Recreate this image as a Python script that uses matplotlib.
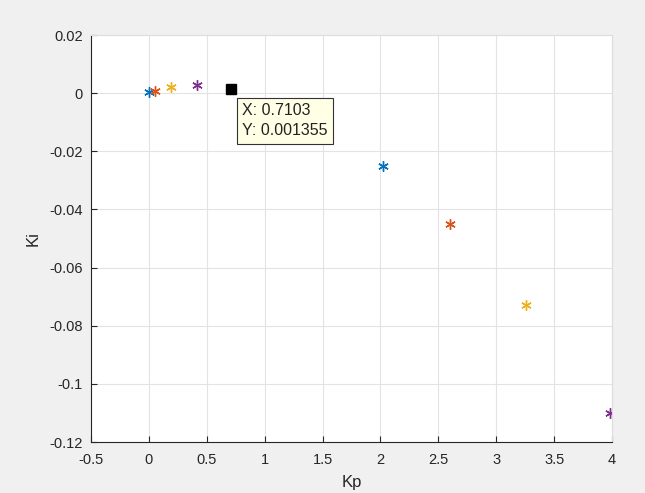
import numpy as np
import matplotlib.pyplot as plt

plt.rcParams['font.family'] = ['Liberation Sans', 'DejaVu Sans']

# Kp / Ki pairs, one colour per run (MATLAB default order)
kp = [0.0, 0.05, 0.19, 0.415, 2.02, 2.60, 3.255, 3.98]
ki = [0.0003, 0.0009, 0.0021, 0.0028, -0.025, -0.045, -0.073, -0.110]
colors = ['#0072BD', '#D95319', '#EDB120', '#7E2F8E',
          '#0072BD', '#D95319', '#EDB120', '#7E2F8E']

tipX = 0.7103
tipY = 0.001355

fig = plt.figure(figsize=(6.45, 4.93), dpi=100, facecolor='#F0F0F0')
ax = fig.add_axes([0.141, 0.1034, 0.808, 0.8256])
ax.set_facecolor('white')

for x, y, c in zip(kp, ki, colors):
    ax.plot(x, y, linestyle='none', marker=(6, 2, 0), markersize=7.5,
            markeredgewidth=1.0, color=c)

# data tip
ax.plot(tipX, tipY, 's', color='black', markersize=7)
ax.annotate('X: %.4f\nY: %g' % (tipX, tipY), xy=(tipX, tipY),
            xytext=(8, -10), textcoords='offset points', ha='left', va='top',
            fontsize=11.5, linespacing=1.45, color='#222222',
            bbox=dict(boxstyle='square,pad=0.32', fc='#FFFFE6', ec='#333333', lw=0.8))

ax.set_xlim(-0.5, 4)
ax.set_ylim(-0.12, 0.02)
ax.set_xticks(np.arange(-0.5, 4.01, 0.5))
ax.set_xticklabels(['-0.5', '0', '0.5', '1', '1.5', '2', '2.5', '3', '3.5', '4'])
ax.set_yticks(np.arange(-0.12, 0.021, 0.02))
ax.set_yticklabels(['-0.12', '-0.1', '-0.08', '-0.06', '-0.04', '-0.02', '0', '0.02'])
ax.grid(True, color='#E3E3E3', linewidth=0.8)
ax.set_axisbelow(True)
ax.tick_params(direction='in', length=4, labelsize=10.5, colors='#262626',
               top=False, right=False)
ax.tick_params(axis='x', pad=8)
ax.tick_params(axis='y', pad=6)
for side in ['left', 'bottom']:
    ax.spines[side].set_color('#262626')
    ax.spines[side].set_linewidth(0.8)
for side in ['top', 'right']:
    ax.spines[side].set_color('#DDDDDD')
    ax.spines[side].set_linewidth(0.8)

ax.set_xlabel('Kp', fontsize=12, color='#262626', labelpad=6)
ax.set_ylabel('Ki', fontsize=12, color='#262626', labelpad=6)

fig.savefig('out.png', dpi=100, facecolor=fig.get_facecolor())
